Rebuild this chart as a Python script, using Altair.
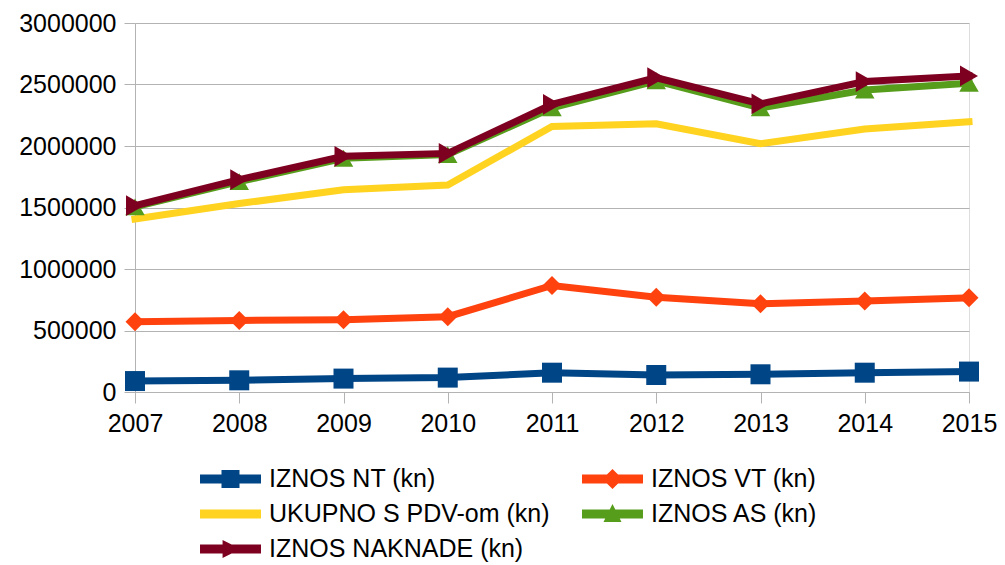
import altair as alt
import pandas as pd

years = [2007, 2008, 2009, 2010, 2011, 2012, 2013, 2014, 2015]
series_names = ["IZNOS NT (kn)", "IZNOS VT (kn)", "UKUPNO S PDV-om (kn)", "IZNOS AS (kn)", "IZNOS NAKNADE (kn)"]
iznos_nt = [89000, 95000, 109000, 117000, 157000, 138000, 144000, 157000, 166000]
iznos_vt = [571000, 582000, 588000, 612000, 866000, 771000, 717000, 739000, 766000]
ukupno = [1407000, 1532000, 1645000, 1683000, 2159000, 2181000, 2019000, 2138000, 2197000]
iznos_as = [1505000, 1710000, 1900000, 1930000, 2310000, 2530000, 2310000, 2455000, 2510000]
iznos_naknade = [1515000, 1726000, 1916000, 1940000, 2338000, 2555000, 2343000, 2524000, 2570000]
colors = ["#004586", "#ff420e", "#ffd320", "#579d1c", "#7e0021"]
shapes = ["square", "diamond", None, "triangle-up", "triangle-right"]
sizes = [400, 360, 0, 380, 430]

all_values = [iznos_nt, iznos_vt, ukupno, iznos_as, iznos_naknade]
rows = []
for name, vals in zip(series_names, all_values):
    for y, v in zip(years, vals):
        rows.append({"year": y, "value": v, "series": name})
df = pd.DataFrame(rows)

FONT = "Liberation Sans"
GRID = "#b3b3b3"

# legend symbol paths (line + marker); unit = half of a 36px symbol box
w = 1.694
t = 0.25
line_p = f"M-{w},-{t}L{w},-{t}L{w},{t}L-{w},{t}Z"
legend_paths = {
    "IZNOS NT (kn)": line_p + "M-0.5,-0.5L0.5,-0.5L0.5,0.5L-0.5,0.5Z",
    "IZNOS VT (kn)": line_p + "M0,-0.56L0.56,0L0,0.56L-0.56,0Z",
    "UKUPNO S PDV-om (kn)": line_p,
    "IZNOS AS (kn)": line_p + "M0,-0.56L0.5,0.44L-0.5,0.44Z",
    "IZNOS NAKNADE (kn)": line_p + "M0.56,0L-0.44,0.5L-0.44,-0.5Z",
}
expr = "'" + legend_paths[series_names[-1]] + "'"
for name in reversed(series_names[:-1]):
    expr = f"datum.value == '{name}' ? '{legend_paths[name]}' : " + expr

legend = alt.Legend(
    orient="none", legendX=77.5, legendY=438, columns=2, direction="horizontal", title=None,
    labelFontSize=25, labelFont=FONT, labelColor="black", labelLimit=500,
    symbolSize=1296, symbolStrokeWidth=0, columnPadding=31, rowPadding=4,
    labelOffset=20.5, padding=0,
    symbolType={"expr": expr},
    symbolFillColor={"expr": "scale('color', datum.value)"},
    symbolOpacity=1,
)

color_enc = alt.Color("series:N", scale=alt.Scale(domain=series_names, range=colors),
                      sort=series_names, legend=legend)
x_enc = alt.X("year:Q", scale=alt.Scale(domain=[2007, 2015], nice=False, zero=False),
              axis=alt.Axis(values=years, format="d", grid=False, title=None, tickSize=11,
                            tickColor=GRID, domainColor=GRID, labelFontSize=25, labelFont=FONT,
                            labelColor="black", labelPadding=8, labelFlush=False))
y_enc = alt.Y("value:Q", scale=alt.Scale(domain=[0, 3000000], nice=False),
              axis=alt.Axis(values=[0, 500000, 1000000, 1500000, 2000000, 2500000, 3000000],
                            format="d", title=None, tickSize=11, tickColor=GRID, domainColor=GRID,
                            gridColor=GRID, labelFontSize=25, labelFont=FONT, labelColor="black",
                            labelPadding=8))

layers = []
for name, shp, sz in zip(series_names, shapes, sizes):
    base = alt.Chart(df).transform_filter(alt.datum.series == name)
    layers.append(base.mark_line(strokeWidth=7, strokeCap="square").encode(x=x_enc, y=y_enc, color=color_enc))
    if shp:
        layers.append(base.mark_point(filled=True, shape=shp, size=sz, opacity=1).encode(
            x=x_enc, y=y_enc, color=color_enc))

chart = alt.layer(*layers).properties(
    width=834, height=369,
    autosize=alt.AutoSizeParams(type="none"),
    padding={"left": 127, "top": 15, "right": 28, "bottom": 173},
).configure_view(stroke=GRID, strokeWidth=1).configure(background="white")

chart.save("out.html", embed_options={"renderer": "svg", "actions": False})
